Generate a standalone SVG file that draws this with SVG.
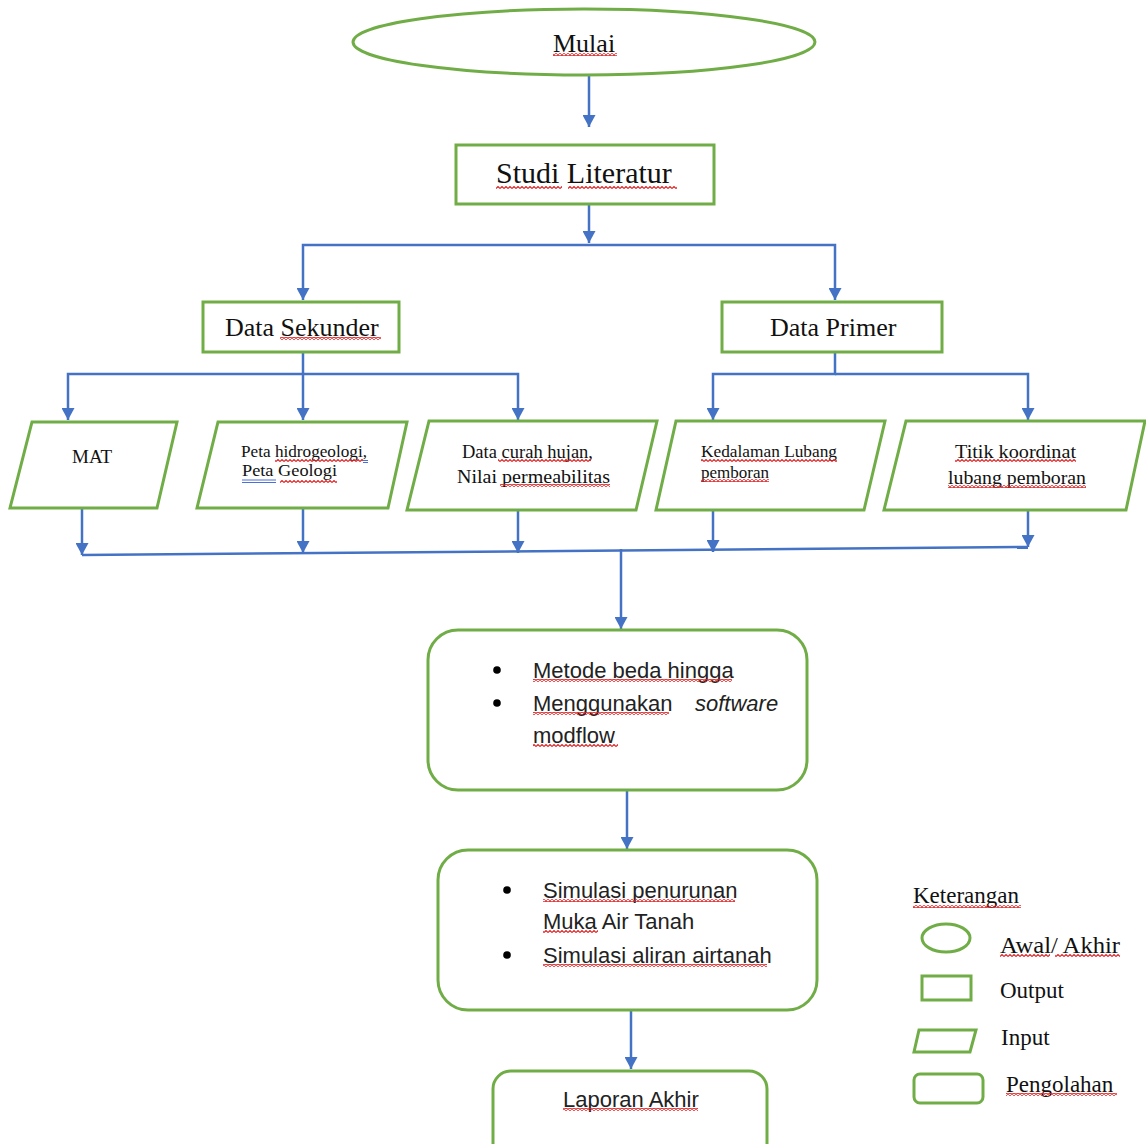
<svg xmlns="http://www.w3.org/2000/svg" width="1146" height="1144" viewBox="0 0 1146 1144">
<style>
.g{fill:#fff;stroke:#70AD47;stroke-width:3}
.c{fill:none;stroke:#4472C4;stroke-width:2.5}
.a{marker-end:url(#ah)}
.t{font-family:"Liberation Serif","Times New Roman",serif;fill:#111}
.s{font-family:"Liberation Sans",Arial,sans-serif;fill:#222;font-size:22px}
.sq{fill:url(#sqp)}
.bq{fill:none;stroke:#4a6fd8;stroke-width:1}
</style>
<defs>
<marker id="ah" markerUnits="userSpaceOnUse" markerWidth="13" markerHeight="13" refX="12" refY="6.5" orient="auto">
<path d="M0,0 L12,6.5 L0,13 z" fill="#4472C4"/>
</marker>
<pattern id="sqp" patternUnits="userSpaceOnUse" width="4" height="3">
<path d="M0,2.5 L2,0.5 L4,2.5" fill="none" stroke="#e02020" stroke-width="1.1"/>
</pattern>
</defs>
<rect width="1146" height="1144" fill="#fff"/>

<g id="connectors">
<path class="c a" d="M589,75 V127"/>
<path class="c a" d="M589,188 V243"/>
<path class="c a" d="M589,245 H303 V300"/>
<path class="c a" d="M589,245 H835 V300"/>
<path class="c a" d="M303,352 V420"/>
<path class="c a" d="M303,374 H68 V420"/>
<path class="c a" d="M303,374 H518 V420"/>
<path class="c a" d="M835,352 V374 H713 V420"/>
<path class="c a" d="M835,374 H1028 V420"/>
<path class="c a" d="M82,508 V555"/>
<path class="c a" d="M303,508 V553"/>
<path class="c a" d="M518,508 V553"/>
<path class="c a" d="M713,508 V552"/>
<path class="c a" d="M1028,503 V547"/>
<path class="c" d="M82,555 L1028,547"/>
<path class="c a" d="M621,549 V629"/>
<path class="c a" d="M627,790 V849"/>
<path class="c a" d="M631,1010 V1069"/>
</g>

<g id="mulai">
<ellipse class="g" cx="584" cy="42" rx="231" ry="33"/>
<text class="t" x="553" y="52" font-size="26">Mulai</text>
</g>
<g id="studi-literatur">
<rect class="g" x="456" y="145" width="258" height="59"/>
<text class="t" x="496" y="183" font-size="30">Studi Literatur</text>
</g>
<g id="data-sekunder">
<rect class="g" x="203" y="302" width="196" height="50"/>
<text class="t" x="225" y="336" font-size="26">Data Sekunder</text>
</g>
<g id="data-primer">
<rect class="g" x="722" y="302" width="220" height="50"/>
<text class="t" x="770" y="336" font-size="26">Data Primer</text>
</g>
<g id="mat">
<polygon class="g" points="32,422 177,422 157,508 10,508"/>
<text class="t" x="72" y="463" font-size="19">MAT</text>
</g>
<g id="peta">
<polygon class="g" points="218,422 407,422 388,508 197,508"/>
<text class="t" x="241" y="457" font-size="17" textLength="126" lengthAdjust="spacingAndGlyphs">Peta hidrogeologi,</text>
<text class="t" x="242" y="476" font-size="17" textLength="95" lengthAdjust="spacingAndGlyphs"> Peta Geologi</text>
</g>
<g id="curah-hujan">
<polygon class="g" points="429,421 657,421 636,510 407,510"/>
<text class="t" x="462" y="458" font-size="18" textLength="131" lengthAdjust="spacingAndGlyphs">Data curah hujan,</text>
<text class="t" x="457" y="483" font-size="18" textLength="153" lengthAdjust="spacingAndGlyphs">Nilai permeabilitas</text>
</g>
<g id="kedalaman">
<polygon class="g" points="676,421 885,421 864,510 656,510"/>
<text class="t" x="701" y="457" font-size="17" textLength="136" lengthAdjust="spacingAndGlyphs">Kedalaman Lubang</text>
<text class="t" x="701" y="478" font-size="17" textLength="68" lengthAdjust="spacingAndGlyphs">pemboran</text>
</g>
<g id="titik">
<polygon class="g" points="906,421 1145,421 1126,510 884,510"/>
<text class="t" x="955" y="458" font-size="19" textLength="121" lengthAdjust="spacingAndGlyphs">Titik koordinat</text>
<text class="t" x="948" y="484" font-size="19" textLength="138" lengthAdjust="spacingAndGlyphs">lubang pemboran</text>
</g>
<g id="proses-1">
<rect class="g" x="428" y="630" width="379" height="160" rx="30"/>
<circle cx="497" cy="670" r="3.8" fill="#000"/>
<circle cx="497" cy="703" r="3.8" fill="#000"/>
<text class="s" x="533" y="678">Metode beda hingga</text>
<text class="s" x="533" y="711">Menggunakan</text>
<text class="s" x="695" y="711" font-style="italic">software</text>
<text class="s" x="533" y="743">modflow</text>
</g>
<g id="proses-2">
<rect class="g" x="438" y="850" width="379" height="160" rx="30"/>
<circle cx="507" cy="890" r="3.8" fill="#000"/>
<circle cx="507" cy="955" r="3.8" fill="#000"/>
<text class="s" x="543" y="898">Simulasi penurunan</text>
<text class="s" x="543" y="929">Muka Air Tanah</text>
<text class="s" x="543" y="963">Simulasi aliran airtanah</text>
</g>
<g id="laporan-akhir">
<rect class="g" x="493" y="1071" width="274" height="95" rx="18"/>
<text class="s" x="563" y="1107">Laporan Akhir</text>
</g>
<g id="legend">
<text class="t" x="913" y="903" font-size="23">Keterangan</text>
<ellipse class="g" cx="946" cy="938" rx="24" ry="14" stroke-width="2.5"/>
<text class="t" x="1000" y="953" font-size="23" textLength="120" lengthAdjust="spacingAndGlyphs">Awal/ Akhir</text>
<rect class="g" x="922" y="976" width="49" height="24" stroke-width="2.5"/>
<text class="t" x="1000" y="998" font-size="23">Output</text>
<polygon class="g" points="919,1030 976,1030 970,1052 914,1052" stroke-width="2.5"/>
<text class="t" x="1001" y="1045" font-size="23">Input</text>
<rect class="g" x="914" y="1074" width="69" height="29" rx="6" stroke-width="2.5"/>
<text class="t" x="1006" y="1092" font-size="23">Pengolahan</text>
</g>

<g id="spellcheck">
<rect class="sq" x="553" y="53" width="64" height="3"/>
<rect class="sq" x="496" y="186" width="66" height="3"/>
<rect class="sq" x="568" y="186" width="109" height="3"/>
<rect class="sq" x="280" y="337" width="101" height="3"/>
<rect class="sq" x="275" y="459" width="88" height="3"/>
<path class="bq" d="M363,460.5 H368 M363,462.5 H368 M242,480 H276 M242,482.5 H276"/>
<rect class="sq" x="280" y="480" width="57" height="3"/>
<rect class="sq" x="498" y="459" width="93" height="3"/>
<rect class="sq" x="500" y="484" width="110" height="3"/>
<rect class="sq" x="701" y="459" width="136" height="3"/>
<rect class="sq" x="701" y="479" width="68" height="3"/>
<rect class="sq" x="955" y="459" width="121" height="3"/>
<rect class="sq" x="948" y="485" width="138" height="3"/>
<rect class="sq" x="533" y="679" width="199" height="3"/>
<rect class="sq" x="533" y="712" width="136" height="3"/>
<rect class="sq" x="533" y="744" width="85" height="3"/>
<rect class="sq" x="543" y="899" width="192" height="3"/>
<rect class="sq" x="543" y="930" width="55" height="3"/>
<rect class="sq" x="543" y="964" width="224" height="3"/>
<rect class="sq" x="563" y="1108" width="135" height="3"/>
<rect class="sq" x="913" y="905" width="108" height="3"/>
<rect class="sq" x="1000" y="954" width="50" height="3"/>
<rect class="sq" x="1055" y="954" width="65" height="3"/>
<rect class="sq" x="1006" y="1093" width="111" height="3"/>
</g>
</svg>
